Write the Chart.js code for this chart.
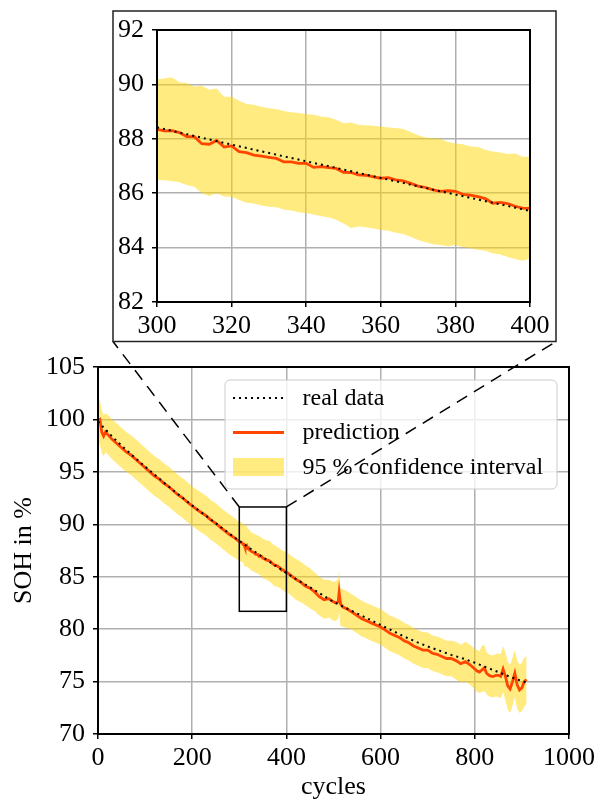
<!DOCTYPE html>
<html>
<head>
<meta charset="utf-8">
<script src="https://cdn.jsdelivr.net/npm/chart.js@4.4.1/dist/chart.umd.min.js"></script>
<style>
  body { margin: 0; background: #fff; }
  #wrap { position: relative; width: 600px; height: 803px; }
  #mainChart, #insetChart { position: absolute; left: 0; top: 0; }
</style>
</head>
<body>
<div id="wrap">
  <canvas id="mainChart" width="600" height="803"></canvas>
  <canvas id="insetChart" width="600" height="345"></canvas>
</div>
<script>
// ---- data ----
const realCycles = [0, 25, 50, 75, 100, 125, 150, 175, 200, 225, 250, 275, 300, 325, 350, 375, 400, 425,
    450, 475, 500, 525, 550, 575, 600, 625, 650, 675, 700, 725, 750, 775, 800, 825, 850, 875, 900, 910];
const realSoh = [99.8, 98.6, 97.5, 96.5, 95.5, 94.55, 93.6, 92.7, 91.8, 90.95, 90.1, 89.25, 88.42, 87.63,
    86.87, 86.1, 85.35, 84.65, 84.0, 83.3, 82.6, 82.05, 81.5, 80.95, 80.4, 79.85, 79.3, 78.8, 78.35, 77.95,
    77.55, 77.2, 76.8, 76.35, 75.9, 75.45, 75.05, 74.9];

const cycles = [0, 4, 8, 12, 16, 20, 30, 40, 50, 60, 70, 80, 90, 100, 110, 120, 130, 140, 150, 160, 170,
    180, 190, 200, 210, 220, 230, 240, 250, 260, 270, 280, 290,
    300, 302, 304, 306, 308, 310, 312, 314, 316, 318, 320, 322, 324, 326, 328, 330, 332, 334, 336, 338,
    340, 342, 344, 346, 348, 350, 352, 354, 356, 358, 360, 362, 364, 366, 368, 370, 372, 374, 376, 378,
    380, 382, 384, 386, 388, 390, 392, 394, 396, 398, 400,
    410, 420, 430, 440, 450, 460, 470, 480, 490, 500, 505, 510, 512, 515, 520,
    530, 540, 550, 560, 570, 580, 590, 600, 610, 620, 630, 640, 650, 660, 670, 680, 690, 700, 710, 720,
    730, 740, 750, 760, 770, 780, 790, 800,
    805, 810, 815, 820, 825, 830, 835, 840, 845, 850, 855, 860, 865, 870, 875, 880, 885, 890, 895, 900,
    905, 910];

const predSoh = [99.9, 100.0, 98.8, 98.4, 98.8, 98.6, 98.1, 97.7, 97.3, 96.9, 96.6, 96.2, 95.8, 95.4, 95.0,
    94.6, 94.3, 93.9, 93.6, 93.2, 92.8, 92.5, 92.1, 91.75, 91.4, 91.1, 90.8, 90.4, 90.1, 89.7, 89.35, 89.0, 88.7,
    88.35, 88.29, 88.30, 88.23, 88.08, 88.08, 87.82, 87.80, 87.94, 87.70, 87.74, 87.53, 87.49, 87.40, 87.36,
    87.32, 87.28, 87.15, 87.15, 87.10, 87.10, 86.95, 86.98, 86.94, 86.91, 86.77, 86.76, 86.67, 86.66, 86.60,
    86.55, 86.57, 86.49, 86.45, 86.36, 86.26, 86.21, 86.12, 86.07, 86.09, 86.07, 85.96, 85.93, 85.87, 85.80,
    85.63, 85.66, 85.62, 85.52, 85.45, 85.44,
    85.1, 84.75, 84.5, 84.1, 83.9, 83.55, 83.1, 82.8, 82.9, 82.6, 82.5, 82.6, 83.5, 82.4, 82.1,
    81.9, 81.6, 81.3, 81.0, 80.8, 80.6, 80.4, 80.2, 79.9, 79.6, 79.4, 79.2, 78.9, 78.7, 78.4, 78.2, 78.0,
    78.0, 77.7, 77.6, 77.4, 77.2, 77.2, 77.0, 76.7, 76.9, 76.6, 76.2,
    76.0, 75.9, 76.1, 76.3, 75.8, 75.6, 75.5, 75.5, 75.6, 75.6, 75.5, 76.2, 75.5, 74.6, 74.3, 75.0, 75.8,
    74.7, 74.2, 74.4, 75.0, 75.2];

const upperSoh = [101.9, 101.8, 100.9, 100.4, 100.6, 100.5, 100.0, 99.6, 99.2, 98.8, 98.5, 98.1, 97.7, 97.3,
    96.9, 96.5, 96.2, 95.8, 95.5, 95.1, 94.7, 94.4, 94.0, 93.6, 93.3, 93.0, 92.7, 92.3, 92.0, 91.6, 91.25, 90.9, 90.6,
    90.19, 90.22, 90.26, 90.08, 90.05, 89.92, 89.95, 89.80, 89.85, 89.55, 89.55, 89.40, 89.28, 89.25, 89.18,
    89.12, 89.10, 89.02, 88.98, 88.95, 88.91, 88.88, 88.82, 88.79, 88.70, 88.57, 88.60, 88.52, 88.50, 88.48,
    88.45, 88.42, 88.40, 88.36, 88.25, 88.13, 88.05, 88.02, 88.00, 87.88, 87.83, 87.80, 87.72, 87.70, 87.60,
    87.53, 87.50, 87.44, 87.46, 87.34, 87.34,
    87.0, 86.7, 86.45, 86.1, 85.8, 85.4, 85.0, 84.7, 84.7, 84.5, 84.6, 84.8, 85.6, 83.9, 83.8,
    83.6, 83.3, 83.0, 82.7, 82.5, 82.3, 82.1, 81.9, 81.6, 81.3, 81.1, 80.9, 80.6, 80.4, 80.1, 79.9, 79.7,
    79.7, 79.4, 79.3, 79.1, 78.9, 78.9, 78.8, 78.5, 78.8, 78.5, 78.1,
    78.0, 77.9, 78.4, 78.5, 77.8, 77.6, 77.5, 77.5, 77.6, 77.7, 77.6, 78.4, 77.8, 76.9, 76.6, 77.3, 78.0,
    77.0, 76.6, 76.8, 77.3, 77.4];

const lowerSoh = [97.9, 97.6, 96.8, 96.5, 96.9, 96.7, 96.2, 95.8, 95.4, 95.0, 94.7, 94.3, 93.9, 93.5, 93.1,
    92.7, 92.4, 92.0, 91.7, 91.3, 90.9, 90.6, 90.2, 89.85, 89.5, 89.2, 88.9, 88.5, 88.2, 87.8, 87.45, 87.1, 86.8,
    86.49, 86.48, 86.45, 86.40, 86.30, 86.24, 86.00, 85.90, 86.00, 85.88, 85.87, 85.75, 85.65, 85.62, 85.55,
    85.50, 85.48, 85.40, 85.36, 85.30, 85.26, 85.22, 85.15, 85.12, 85.02, 84.89, 84.72, 84.78, 84.75, 84.70,
    84.65, 84.62, 84.55, 84.50, 84.40, 84.28, 84.20, 84.12, 84.10, 84.05, 84.10, 84.02, 83.98, 83.92, 83.88,
    83.79, 83.75, 83.65, 83.58, 83.52, 83.60,
    83.2, 82.8, 82.6, 82.3, 82.0, 81.7, 81.3, 81.0, 81.1, 80.8, 80.8, 81.0, 81.7, 80.3, 80.2,
    80.1, 79.9, 79.6, 79.3, 79.1, 78.9, 78.7, 78.5, 78.2, 77.9, 77.7, 77.5, 77.2, 77.0, 76.7, 76.5, 76.3,
    76.3, 76.0, 75.9, 75.7, 75.5, 75.5, 75.2, 74.9, 75.0, 74.7, 74.3,
    74.0, 73.9, 74.0, 74.1, 73.8, 73.6, 73.5, 73.5, 73.6, 73.5, 73.4, 74.0, 73.2, 72.3, 72.0, 72.7, 73.5,
    72.4, 72.0, 72.2, 72.6, 72.9];

// axis ranges / ticks
const mainX = [0, 1000, 200];
const mainY = [70, 105, 5];
const insetX = [300, 400, 20];
const insetY = [82, 92, 2];
// zoom rectangle drawn in the main axes (cycles, SOH)
const boxX = [300, 400];
const boxY = [81.7, 91.65];

const FONT = "'Liberation Serif', 'Times New Roman', serif";
Chart.defaults.font.family = FONT;
Chart.defaults.font.size = 26;
Chart.defaults.color = '#000';

function toPoints(xs, ys) {
    return xs.map((x, i) => ({ x: x, y: ys[i] }));
}

function makeDatasets() {
    return [
        {
            label: 'real data',
            data: toPoints(realCycles, realSoh),
            borderColor: '#000',
            borderWidth: 2,
            borderDash: [2, 4],
            order: 0
        },
        {
            label: 'prediction',
            data: toPoints(cycles, predSoh),
            borderColor: '#ff4500',
            borderWidth: 2.8,
            order: 1
        },
        {
            label: 'lower',
            data: toPoints(cycles, lowerSoh),
            borderColor: 'rgba(0,0,0,0)',
            borderWidth: 0,
            order: 3
        },
        {
            label: '95 % confidence interval',
            data: toPoints(cycles, upperSoh),
            borderColor: 'rgba(0,0,0,0)',
            borderWidth: 0,
            backgroundColor: 'rgba(255, 215, 0, 0.5)',
            fill: 2,
            order: 2
        }
    ];
}

function makeScales(xr, yr, yWidth, xHeight, withTitles) {
    const grid = { color: '#b0b0b0', lineWidth: 1.5, tickColor: '#000', tickLength: 5, tickWidth: 1.5 };
    return {
        x: {
            type: 'linear', min: xr[0], max: xr[1],
            ticks: { stepSize: xr[2], padding: 4, maxRotation: 0, callback: (v) => String(v) },
            grid: grid,
            border: { display: false },
            title: { display: withTitles, text: 'cycles', padding: { top: 0, bottom: 0 } },
            afterFit: (s) => { s.height = xHeight; }
        },
        y: {
            min: yr[0], max: yr[1],
            ticks: { stepSize: yr[2], padding: 8, callback: (v) => String(v) },
            grid: grid,
            border: { display: false },
            title: { display: withTitles, text: 'SOH in %', padding: { top: 9, bottom: 0 } },
            afterFit: (s) => { s.width = yWidth; }
        }
    };
}

// spines on all four sides
const spines = {
    id: 'spines',
    afterDatasetsDraw(chart) {
        const { ctx, chartArea: a } = chart;
        ctx.save();
        ctx.strokeStyle = '#000';
        ctx.lineWidth = 2;
        ctx.strokeRect(a.left, a.top, a.right - a.left, a.bottom - a.top);
        ctx.restore();
    }
};

// zoom box, legend and connector lines of the main axes
const mainExtras = {
    id: 'mainExtras',
    afterDatasetsDraw(chart) {
        const { ctx, scales } = chart;
        const x0 = scales.x.getPixelForValue(boxX[0]);
        const x1 = scales.x.getPixelForValue(boxX[1]);
        const y0 = scales.y.getPixelForValue(boxY[1]);
        const y1 = scales.y.getPixelForValue(boxY[0]);
        ctx.save();
        ctx.strokeStyle = '#000';
        ctx.lineWidth = 1.5;
        ctx.strokeRect(x0, y0, x1 - x0, y1 - y0);

        // legend
        const lx = 225, ly = 380, lw = 332, lh = 109;
        ctx.beginPath();
        ctx.roundRect(lx, ly, lw, lh, 5);
        ctx.fillStyle = 'rgba(255,255,255,0.8)';
        ctx.fill();
        ctx.strokeStyle = '#cccccc';
        ctx.lineWidth = 1;
        ctx.stroke();
        const items = [0, 1, 3];
        ctx.font = '24px ' + FONT;
        ctx.textBaseline = 'middle';
        ctx.textAlign = 'left';
        items.forEach((idx, i) => {
            const ds = chart.data.datasets[idx];
            const y = 398 + i * 34.5;
            if (ds.fill !== undefined) {
                ctx.fillStyle = ds.backgroundColor;
                ctx.fillRect(233, y - 9, 51, 18);
            } else {
                ctx.beginPath();
                ctx.setLineDash(ds.borderDash || []);
                ctx.strokeStyle = ds.borderColor;
                ctx.lineWidth = ds.borderWidth;
                ctx.moveTo(233, y);
                ctx.lineTo(284, y);
                ctx.stroke();
                ctx.setLineDash([]);
            }
            ctx.fillStyle = '#000';
            ctx.fillText(ds.label, 302.5, y + 0.5);
        });

        // connectors to the inset frame
        ctx.setLineDash([12, 8]);
        ctx.strokeStyle = '#000';
        ctx.lineWidth = 1.5;
        ctx.beginPath();
        ctx.moveTo(x0, y0);
        ctx.lineTo(113, 341.5);
        ctx.moveTo(x1, y0);
        ctx.lineTo(556, 341.5);
        ctx.stroke();
        ctx.restore();
    }
};

// white frame behind the inset axes
const insetFrame = {
    id: 'insetFrame',
    beforeDraw(chart) {
        const ctx = chart.ctx;
        ctx.save();
        ctx.fillStyle = '#fff';
        ctx.fillRect(113, 11, 443, 330.5);
        ctx.strokeStyle = '#222';
        ctx.lineWidth = 1.5;
        ctx.strokeRect(113, 11, 443, 330.5);
        ctx.restore();
    }
};

const common = {
    responsive: false,
    animation: false,
    events: [],
    elements: { point: { radius: 0 }, line: { tension: 0 } },
    datasets: { line: { clip: 0 } },
    plugins: { legend: { display: false }, tooltip: { enabled: false } }
};

new Chart(document.getElementById('mainChart'), {
    type: 'line',
    data: { datasets: makeDatasets() },
    options: Object.assign({}, common, {
        layout: { padding: { top: 367, right: 31, bottom: 0, left: 0 } },
        scales: makeScales(mainX, mainY, 98, 69, true)
    }),
    plugins: [spines, mainExtras]
});

new Chart(document.getElementById('insetChart'), {
    type: 'line',
    data: { datasets: makeDatasets() },
    options: Object.assign({}, common, {
        layout: { padding: { top: 30, right: 70, bottom: 0, left: 0 } },
        scales: makeScales(insetX, insetY, 157, 43, false)
    }),
    plugins: [insetFrame, spines]
});
</script>
</body>
</html>
